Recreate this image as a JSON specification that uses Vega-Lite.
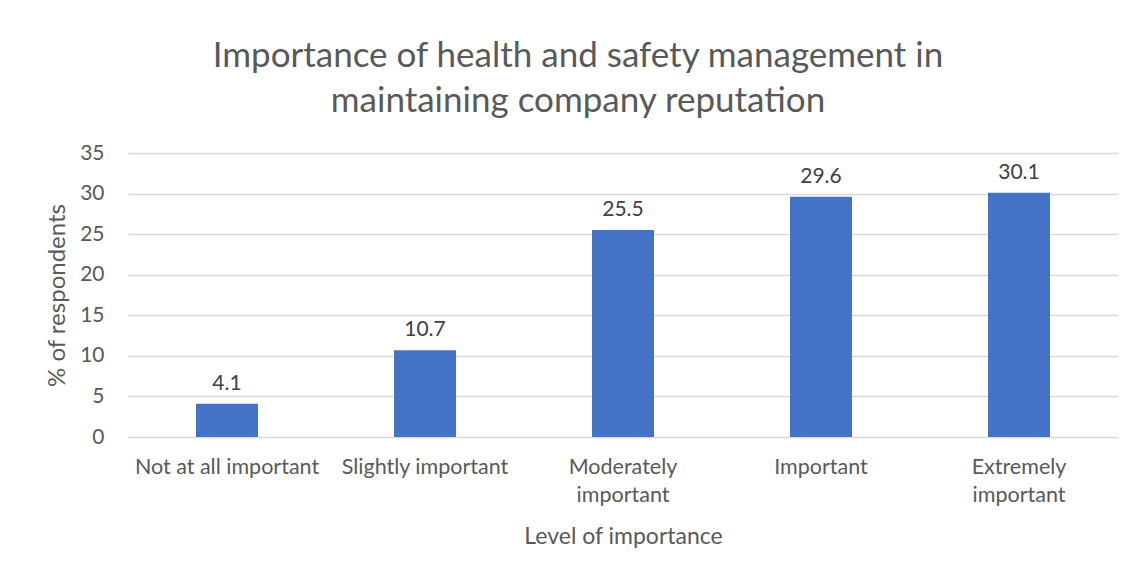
{
  "$schema": "https://vega.github.io/schema/vega-lite/v6.json",
  "width": 990,
  "height": 284,
  "autosize": "none",
  "padding": {"left": 128, "top": 153, "right": 20, "bottom": 144},
  "background": "white",
  "title": {
    "text": ["Importance of health and safety management in", "maintaining company reputation"],
    "anchor": "middle",
    "dx": -45,
    "offset": 23,
    "font": "Lato",
    "fontSize": 35,
    "fontWeight": "normal",
    "color": "#595959",
    "lineHeight": 45
  },
  "data": {
    "values": [
      {"level": "Not at all important", "pct": 4.1},
      {"level": "Slightly important", "pct": 10.7},
      {"level": "Moderately|important", "pct": 25.5},
      {"level": "Important", "pct": 29.6},
      {"level": "Extremely|important", "pct": 30.1}
    ]
  },
  "encoding": {
    "x": {
      "field": "level",
      "type": "nominal",
      "sort": null,
      "scale": {"paddingInner": 0.687, "paddingOuter": 0.3435},
      "axis": {
        "title": "Level of importance",
        "labelExpr": "split(datum.value, '|')",
        "labelAngle": 0,
        "labelLimit": 0,
        "labelFont": "Lato",
        "labelFontSize": 21.5,
        "labelColor": "#595959",
        "labelLineHeight": 28,
        "labelPadding": 19,
        "ticks": false,
        "domainColor": "#d9d9d9",
        "titleFont": "Lato",
        "titleFontSize": 23,
        "titleFontWeight": "normal",
        "titleColor": "#595959",
        "titlePadding": 20
      }
    },
    "y": {
      "field": "pct",
      "type": "quantitative",
      "scale": {"domain": [0, 35]},
      "axis": {
        "title": "% of respondents",
        "values": [0, 5, 10, 15, 20, 25, 30, 35],
        "labelFont": "Lato",
        "labelFontSize": 21,
        "labelColor": "#595959",
        "labelPadding": 24,
        "ticks": false,
        "domain": false,
        "gridColor": "#d9d9d9",
        "gridWidth": 1.3,
        "titleFont": "Lato",
        "titleFontSize": 24,
        "titleFontWeight": "normal",
        "titleColor": "#595959",
        "titlePadding": 10
      }
    }
  },
  "layer": [
    {"mark": {"type": "bar", "color": "#4472C4"}},
    {
      "mark": {"type": "text", "baseline": "bottom", "dy": -10, "font": "Lato", "fontSize": 21, "color": "#404040"},
      "encoding": {"text": {"field": "pct", "type": "quantitative", "format": ".1f"}}
    }
  ],
  "config": {"view": {"stroke": null}}
}
